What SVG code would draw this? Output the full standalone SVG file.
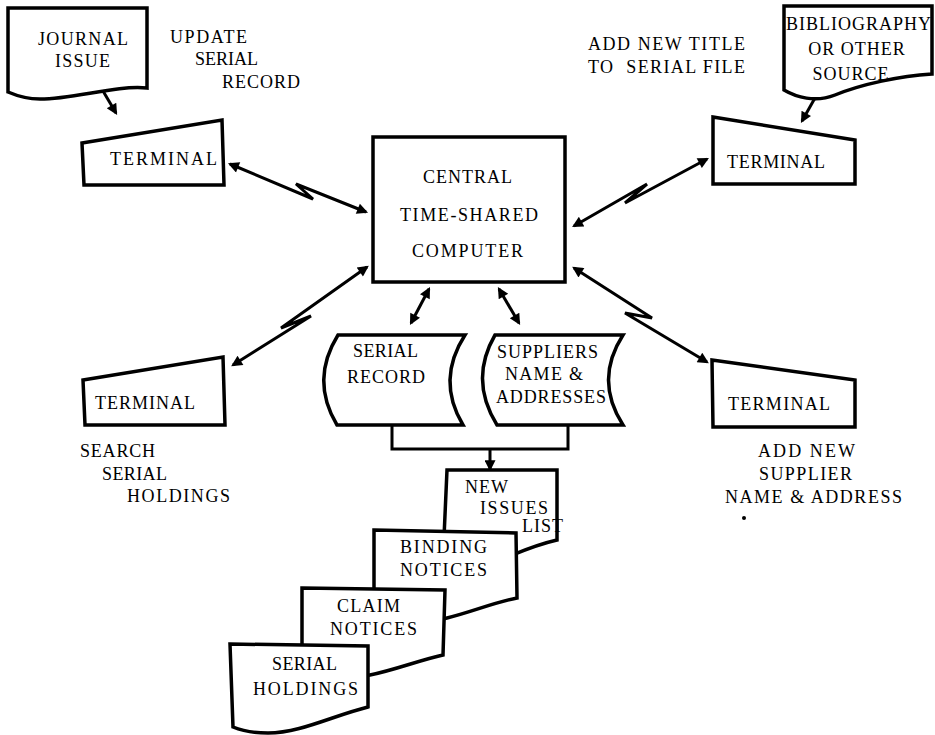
<svg xmlns="http://www.w3.org/2000/svg" width="935" height="735" viewBox="0 0 935 735">
<defs>
<style>
.s{fill:#fff;stroke:#000;stroke-width:3.5;stroke-linejoin:miter}
.c{fill:none;stroke:#000;stroke-width:3;stroke-linejoin:miter}
text{font-family:"Liberation Serif","Times New Roman",serif;font-size:18px;fill:#000}
</style>
<marker id="ah" viewBox="0 0 10 10" refX="8" refY="5" markerWidth="13" markerHeight="11" markerUnits="userSpaceOnUse" orient="auto-start-reverse"><path d="M0,0 L10,5 L0,10 z" fill="#000"/></marker>
</defs>
<rect width="935" height="735" fill="#fff"/>

<g id="connectors">
<path class="c" d="M103,91 L116,113" marker-end="url(#ah)"/>
<path class="c" d="M815,98 L802,121" marker-end="url(#ah)"/>
<polyline class="c" points="230,164 313,199 296,184 366,212" marker-start="url(#ah)" marker-end="url(#ah)"/>
<polyline class="c" points="574,226 647,184 625,203 707,159" marker-start="url(#ah)" marker-end="url(#ah)"/>
<polyline class="c" points="367,267 281,328 311,316 233,365" marker-start="url(#ah)" marker-end="url(#ah)"/>
<polyline class="c" points="574,268 652,318 625,313 707,362" marker-start="url(#ah)" marker-end="url(#ah)"/>
<path class="c" d="M429,289 L411,323" marker-start="url(#ah)" marker-end="url(#ah)"/>
<path class="c" d="M499,289 L519,323" marker-start="url(#ah)" marker-end="url(#ah)"/>
<polyline class="c" points="392,425 392,449 568,449 568,425"/>
<path class="c" d="M490,449 L490,469" marker-end="url(#ah)"/>
</g>

<g id="journal-issue">
<path class="s" d="M8,8 H147 V88 C115,85 75,99 40,99 C25,99 15,95 8,92 Z"/>
<text x="38" y="45" textLength="90">JOURNAL</text>
<text x="55" y="67" textLength="55">ISSUE</text>
</g>

<g id="update-label">
<text x="170" y="43" textLength="77">UPDATE</text>
<text x="195" y="65" textLength="63">SERIAL</text>
<text x="222" y="88" textLength="78">RECORD</text>
</g>

<g id="terminal-tl">
<path class="s" d="M82,143 L222,120 L224,185 L84,185 Z"/>
<text x="110" y="165" textLength="107">TERMINAL</text>
</g>

<g id="central-computer">
<rect class="s" x="373" y="137" width="192" height="145"/>
<text x="423" y="183" textLength="89">CENTRAL</text>
<text x="400" y="221" textLength="138">TIME-SHARED</text>
<text x="412" y="257" textLength="111">COMPUTER</text>
</g>

<g id="add-title-label">
<text x="588" y="50" textLength="157">ADD NEW TITLE</text>
<text x="588" y="73" textLength="157" xml:space="preserve">TO  SERIAL FILE</text>
</g>

<g id="bibliography">
<path class="s" d="M784,6 H932 V74 C900,76 862,84 835,95 C815,103 796,97 784,90 Z"/>
<text x="786" y="30" textLength="145">BIBLIOGRAPHY</text>
<text x="857" y="55" text-anchor="middle" letter-spacing="1">OR OTHER</text>
<text x="851" y="80" text-anchor="middle" letter-spacing="1">SOURCE</text>
</g>

<g id="terminal-tr">
<path class="s" d="M713,117 L855,140 L855,184 L713,184 Z"/>
<text x="727" y="168" textLength="98">TERMINAL</text>
</g>

<g id="terminal-bl">
<path class="s" d="M83,380 L223,357 L225,425 L85,425 Z"/>
<text x="95" y="409" textLength="100">TERMINAL</text>
</g>

<g id="search-label">
<text x="80" y="457" textLength="75">SEARCH</text>
<text x="102" y="480" textLength="65">SERIAL</text>
<text x="127" y="502" textLength="103">HOLDINGS</text>
</g>

<g id="terminal-br">
<path class="s" d="M712,360 L855,380 L855,427 L713,427 Z"/>
<text x="728" y="410" textLength="102">TERMINAL</text>
</g>

<g id="add-supplier-label">
<text x="758" y="457" textLength="97">ADD NEW</text>
<text x="759" y="480" textLength="93">SUPPLIER</text>
<text x="725" y="503" textLength="177">NAME &amp; ADDRESS</text>
<circle cx="744" cy="518" r="2" fill="#000"/>
</g>

<g id="serial-record">
<path class="s" d="M338,335 L465,335 Q436,380 463,425 L337,425 Q310,380 338,335 Z"/>
<text x="353" y="357" textLength="65">SERIAL</text>
<text x="347" y="383" textLength="78">RECORD</text>
</g>

<g id="suppliers">
<path class="s" d="M495,335 L623,335 Q594,380 623,425 L497,425 Q469,380 495,335 Z"/>
<text x="497" y="358" textLength="101">SUPPLIERS</text>
<text x="505" y="380" textLength="78">NAME &amp;</text>
<text x="496" y="403" textLength="110">ADDRESSES</text>
</g>

<g id="new-issues-list">
<path class="s" d="M447,470 L557,470 L557,540 C535,545 520,552 505,558 C480,566 460,565 443,560 Z"/>
<text x="465" y="493" textLength="43">NEW</text>
<text x="480" y="514" textLength="68">ISSUES</text>
<text x="522" y="532" letter-spacing="1">LIST</text>
</g>

<g id="binding-notices">
<path class="s" d="M374,530 L516,533 L517,598 C492,603 472,612 447,618 C420,625 395,622 374,615 Z"/>
<text x="400" y="553" textLength="87">BINDING</text>
<text x="400" y="576" textLength="87">NOTICES</text>
</g>

<g id="claim-notices">
<path class="s" d="M302,588 L445,590 L443,655 C420,660 395,670 370,675 C345,680 320,677 302,670 Z"/>
<text x="337" y="612" textLength="63">CLAIM</text>
<text x="330" y="635" textLength="87">NOTICES</text>
</g>

<g id="serial-holdings">
<path class="s" d="M230,644 L368,646 L368,707 C332,716 300,733 268,733 C252,733 240,730 233,727 Z"/>
<text x="272" y="670" textLength="65">SERIAL</text>
<text x="253" y="695" textLength="105">HOLDINGS</text>
</g>
</svg>
